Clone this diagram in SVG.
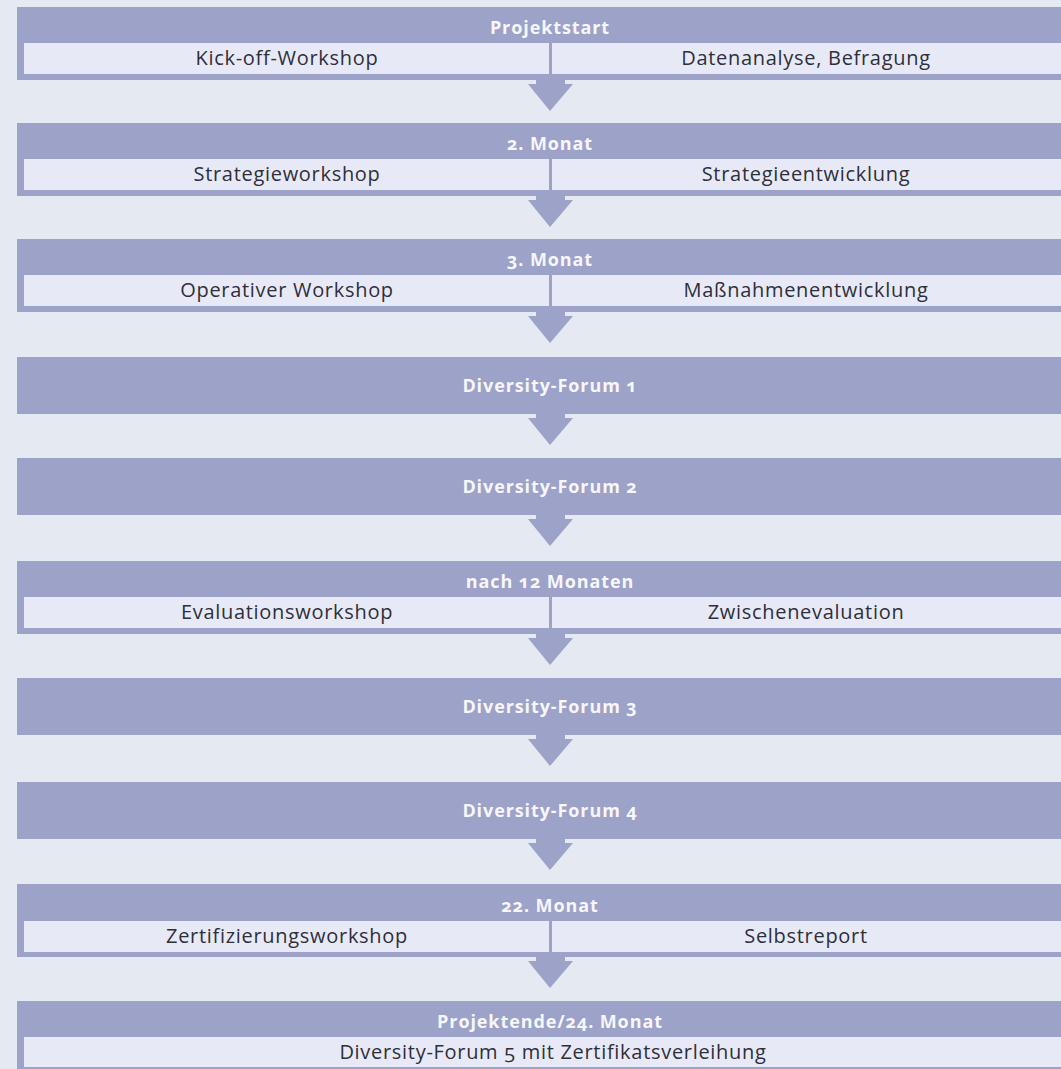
<svg xmlns="http://www.w3.org/2000/svg" width="1061" height="1069" viewBox="0 0 1061 1069">
  <style>
    .page { fill: #e4e9f2; }
    .band { fill: #9ca2c8; }
    .cell { fill: #e7eaf6; }
    .sep { fill: #9ca2c8; }
    .arrow { fill: #9ca2c8; }
    .head { font-family: "Open Sans", "Liberation Sans", sans-serif; font-weight: 700; font-size: 18px; fill: #f6f6fb; text-anchor: middle; letter-spacing: 0.9px; font-variant-numeric: oldstyle-nums; }
    .item { font-family: "Open Sans", "Liberation Sans", sans-serif; font-size: 20px; fill: #2f2f3a; text-anchor: middle; letter-spacing: 0.7px; font-variant-numeric: oldstyle-nums; }
  </style>
  <defs>
    <!-- downward arrow placed under each band; origin = band bottom centre -->
    <polygon id="down" points="-14,0 15,0 15,4 23,4 0,31 -22,4 -14,4"/>
  </defs>

  <rect class="page" x="0" y="0" width="1061" height="1069"/>

  <g id="connectors">
    <use href="#down" class="arrow" x="550" y="80"/>
    <use href="#down" class="arrow" x="550" y="196"/>
    <use href="#down" class="arrow" x="550" y="312"/>
    <use href="#down" class="arrow" x="550" y="414"/>
    <use href="#down" class="arrow" x="550" y="515"/>
    <use href="#down" class="arrow" x="550" y="634"/>
    <use href="#down" class="arrow" x="550" y="735"/>
    <use href="#down" class="arrow" x="550" y="839"/>
    <use href="#down" class="arrow" x="550" y="957"/>
  </g>

  <g id="projektstart">
    <rect class="band" x="17" y="7" width="1044" height="73"/>
    <rect class="cell" x="24" y="43" width="1037" height="31"/>
    <rect class="sep" x="549" y="43" width="3" height="31"/>
    <text class="head" x="550" y="34">Projektstart</text>
    <text class="item" x="287" y="65">Kick-off-Workshop</text>
    <text class="item" x="806" y="65">Datenanalyse, Befragung</text>
  </g>

  <g id="monat-2">
    <rect class="band" x="17" y="123" width="1044" height="73"/>
    <rect class="cell" x="24" y="159" width="1037" height="31"/>
    <rect class="sep" x="549" y="159" width="3" height="31"/>
    <text class="head" x="550" y="150">2. Monat</text>
    <text class="item" x="287" y="181">Strategieworkshop</text>
    <text class="item" x="806" y="181">Strategieentwicklung</text>
  </g>

  <g id="monat-3">
    <rect class="band" x="17" y="239" width="1044" height="73"/>
    <rect class="cell" x="24" y="275" width="1037" height="31"/>
    <rect class="sep" x="549" y="275" width="3" height="31"/>
    <text class="head" x="550" y="266">3. Monat</text>
    <text class="item" x="287" y="297">Operativer Workshop</text>
    <text class="item" x="806" y="297">Maßnahmenentwicklung</text>
  </g>

  <g id="forum-1">
    <rect class="band" x="17" y="357" width="1044" height="57"/>
    <text class="head" x="550" y="392">Diversity-Forum 1</text>
  </g>

  <g id="forum-2">
    <rect class="band" x="17" y="458" width="1044" height="57"/>
    <text class="head" x="550" y="493">Diversity-Forum 2</text>
  </g>

  <g id="monat-12">
    <rect class="band" x="17" y="561" width="1044" height="73"/>
    <rect class="cell" x="24" y="597" width="1037" height="31"/>
    <rect class="sep" x="549" y="597" width="3" height="31"/>
    <text class="head" x="550" y="588">nach 12 Monaten</text>
    <text class="item" x="287" y="619">Evaluationsworkshop</text>
    <text class="item" x="806" y="619">Zwischenevaluation</text>
  </g>

  <g id="forum-3">
    <rect class="band" x="17" y="678" width="1044" height="57"/>
    <text class="head" x="550" y="713">Diversity-Forum 3</text>
  </g>

  <g id="forum-4">
    <rect class="band" x="17" y="782" width="1044" height="57"/>
    <text class="head" x="550" y="817">Diversity-Forum 4</text>
  </g>

  <g id="monat-22">
    <rect class="band" x="17" y="884" width="1044" height="73"/>
    <rect class="cell" x="24" y="921" width="1037" height="31"/>
    <rect class="sep" x="549" y="921" width="3" height="31"/>
    <text class="head" x="550" y="912">22. Monat</text>
    <text class="item" x="287" y="943">Zertifizierungsworkshop</text>
    <text class="item" x="806" y="943">Selbstreport</text>
  </g>

  <g id="projektende">
    <rect class="band" x="17" y="1001" width="1044" height="68"/>
    <rect class="cell" x="24" y="1037" width="1037" height="30"/>
    <text class="head" x="550" y="1028">Projektende/24. Monat</text>
    <text class="item" x="553" y="1059">Diversity-Forum 5 mit Zertifikatsverleihung</text>
  </g>
</svg>
